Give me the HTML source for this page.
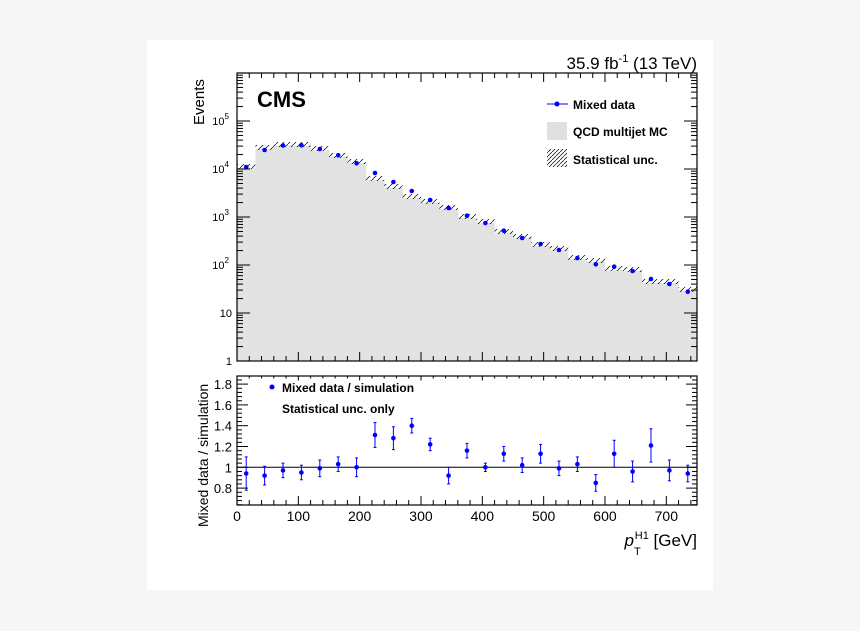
<!DOCTYPE html>
<html><head><meta charset="utf-8"><style>
body{margin:0;background:#f6f6f6;width:860px;height:631px;overflow:hidden}
svg{position:absolute;left:0;top:0}
text{font-family:"Liberation Sans",Arial,sans-serif}
</style></head><body>
<svg id="s" width="860" height="631" xmlns="http://www.w3.org/2000/svg">
<defs><pattern id="h" width="6" height="6" patternUnits="userSpaceOnUse"><path d="M0,6 L6,0" stroke="#000" stroke-width="0.7"/></pattern>
<pattern id="h2" width="4" height="4" patternUnits="userSpaceOnUse"><path d="M0,4 L4,0" stroke="#000" stroke-width="0.7"/></pattern></defs>
<rect x="147" y="40" width="566" height="550" fill="#fff"/>
<g id="g"></g>
<text x="697" y="69" font-size="17" text-anchor="end">35.9 fb<tspan font-size="11" dy="-7">-1</tspan><tspan dy="7"> (13 TeV)</tspan></text>
<text x="257" y="107" font-size="22" font-weight="bold">CMS</text>
<text transform="translate(204,125) rotate(-90)" font-size="15">Events</text>
<text transform="translate(208,527) rotate(-90)" font-size="14">Mixed data / simulation</text>
<g font-size="12" font-weight="bold">
<line x1="547" y1="104" x2="568" y2="104" stroke="#00f"/><circle cx="557" cy="104" r="2.5" fill="#00f"/>
<text x="573" y="109">Mixed data</text>
<rect x="547" y="122" width="20" height="18" fill="#e0e0e0"/>
<text x="573" y="136">QCD multijet MC</text>
<rect x="547" y="149" width="20" height="18" fill="url(#h2)"/>
<text x="573" y="164">Statistical unc.</text>
<circle cx="272" cy="387" r="2.5" fill="#00f"/>
<text x="282" y="392">Mixed data / simulation</text>
<text x="282" y="413">Statistical unc. only</text>
</g>
<text x="697" y="546" font-size="17" text-anchor="end"><tspan font-style="italic">p</tspan><tspan font-size="11" dy="9">T</tspan><tspan font-size="11" dy="-16" dx="-6">H1</tspan><tspan dy="7"> [GeV]</tspan></text>
</svg>
<script>
const g=document.getElementById('g');let h='';
const X=v=>237+v*0.6133;
const mc=[168,149,146,146,150,157,163,180,188,198,203,209,218,223,233,238,246,250,259,262,270,271,283,283,291];
const dt=[167,150,145.5,145.3,149,155.3,163.3,173,182,191,200,208,215.7,223,230.7,238,244,250,258,264.3,266.7,271,279,284,291.7];
const r=[0.94,0.92,0.97,0.95,0.99,1.03,1.0,1.31,1.28,1.4,1.22,0.92,1.16,1.0,1.13,1.02,1.13,0.99,1.03,0.85,1.13,0.96,1.21,0.97,0.94];
const e=[0.16,0.09,0.07,0.07,0.08,0.07,0.09,0.12,0.11,0.07,0.06,0.08,0.07,0.04,0.07,0.07,0.09,0.07,0.07,0.08,0.13,0.1,0.16,0.1,0.08];
for(let i=0;i<25;i++){const x0=X(i*30),x1=X(i*30+30);
h+=`<rect x="${x0}" y="${mc[i]}" width="${x1-x0+0.3}" height="${361-mc[i]}" fill="#e2e2e2"/>`;
h+=`<rect x="${x0}" y="${mc[i]-4}" width="${x1-x0}" height="5" fill="url(#h)"/>`;}
for(let i=0;i<25;i++){h+=`<circle cx="${X(i*30+15)}" cy="${dt[i]}" r="2.3" fill="#00f"/>`;}
const R=v=>467.3-(v-1)*104;
h+=`<line x1="237" y1="467.3" x2="697" y2="467.3" stroke="#000" stroke-width="1"/>`;
for(let i=0;i<25;i++){const x=X(i*30+15);
h+=`<line x1="${x}" y1="${R(r[i]-e[i])}" x2="${x}" y2="${R(r[i]+e[i])}" stroke="#00f"/>`;
h+=`<line x1="${x-1.5}" y1="${R(r[i]-e[i])}" x2="${x+1.5}" y2="${R(r[i]-e[i])}" stroke="#00f"/><line x1="${x-1.5}" y1="${R(r[i]+e[i])}" x2="${x+1.5}" y2="${R(r[i]+e[i])}" stroke="#00f"/>`;
h+=`<circle cx="${x}" cy="${R(r[i])}" r="2.3" fill="#00f"/>`;}
h+=`<rect x="237" y="73" width="460" height="288" fill="none" stroke="#000" stroke-width="1.2"/>`;
h+=`<rect x="237" y="376" width="460" height="129" fill="none" stroke="#000" stroke-width="1.2"/>`;
for(let v=0;v<=740;v+=20){const x=X(v),L=v%100==0?9:5;
h+=`<line x1="${x}" y1="361" x2="${x}" y2="${361-L}" stroke="#000"/><line x1="${x}" y1="73" x2="${x}" y2="${73+L}" stroke="#000"/>`;
h+=`<line x1="${x}" y1="505" x2="${x}" y2="${505-L}" stroke="#000"/><line x1="${x}" y1="376" x2="${x}" y2="${376+L/2}" stroke="#000"/>`;
if(v%100==0)h+=`<text x="${x}" y="521" font-size="14" text-anchor="middle">${v}</text>`;}
const Y=v=>361-Math.log10(v)*48;
for(let d=0;d<6;d++)for(let m=1;m<10;m++){const y=Y(m*Math.pow(10,d));if(y<73)continue;const L=m==1?13:6;
h+=`<line x1="237" y1="${y}" x2="${237+L}" y2="${y}" stroke="#000"/><line x1="697" y1="${y}" x2="${697-L}" y2="${y}" stroke="#000"/>`;}
const lab=['1','10','10<tspan font-size="8" dy="-6">2</tspan>','10<tspan font-size="8" dy="-6">3</tspan>','10<tspan font-size="8" dy="-6">4</tspan>','10<tspan font-size="8" dy="-6">5</tspan>'];
for(let d=0;d<6;d++){h+=`<text x="${d>=2?229:232}" y="${Y(Math.pow(10,d))+4}" font-size="11" text-anchor="end">${lab[d]}</text>`;}
for(let v=0.64;v<=1.87;v+=0.04){const y=R(v);const maj=Math.abs((v*10)%2)<0.01||Math.abs((v*10)%2-2)<0.01;const L=maj?11:5;
h+=`<line x1="237" y1="${y}" x2="${237+L}" y2="${y}" stroke="#000"/><line x1="697" y1="${y}" x2="${697-L}" y2="${y}" stroke="#000"/>`;}
[0.8,1,1.2,1.4,1.6,1.8].forEach(v=>{h+=`<text x="232" y="${R(v)+5}" font-size="13" text-anchor="end">${v==1?'1':v.toFixed(1)}</text>`});
g.innerHTML=h;
</script>
</body></html>
